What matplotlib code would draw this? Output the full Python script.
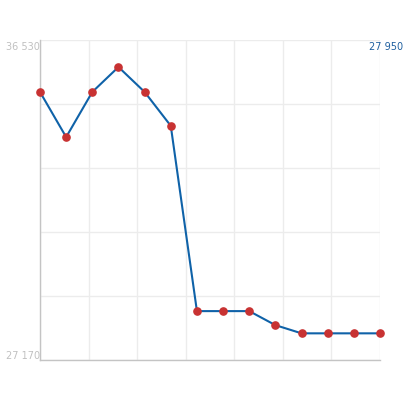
import matplotlib
matplotlib.use("Agg")
import matplotlib.pyplot as plt

values = [35010, 33690, 35010, 35740, 35010, 34020, 28600, 28600, 28600, 28190, 27950, 27950, 27950, 27950]
y_min, y_max = 27170, 36530
y_min_label = "27 170"
y_max_label = "36 530"
last_label = "27 950"

fig = plt.figure(figsize=(4.2, 4.0), dpi=100)
ax = fig.add_axes([40/420, 40/400, 340/420, 320/400])

x = list(range(len(values)))
ax.plot(x, values, color="#0f62a8", lw=1.5, zorder=3, clip_on=False)
ax.plot(x, values, 'o', color="#c83232", ms=5.2, mec="#c83232", zorder=4, clip_on=False)

ax.set_xlim(0, len(values) - 1)
ax.set_ylim(y_min, y_max)

n = len(values) - 1
for i in range(8):
    ax.axvline(i * n / 7, color="#ececec", lw=1, zorder=1)
for j in range(6):
    ax.axhline(y_min + j * (y_max - y_min) / 5, color="#ececec", lw=1, zorder=1)

for s in ["top", "right"]:
    ax.spines[s].set_visible(False)
for s in ["left", "bottom"]:
    ax.spines[s].set_color("#c4c4c4")
    ax.spines[s].set_linewidth(1)
ax.set_xticks([])
ax.set_yticks([])

fig.text(40/420, 1 - 47/400, y_max_label, ha="right", va="center", fontsize=7, color="#c0c0c0")
fig.text(40/420, 1 - 356/400, y_min_label, ha="right", va="center", fontsize=7, color="#c0c0c0")
fig.text(369/420, 1 - 47/400, last_label, ha="left", va="center", fontsize=7, color="#1f5f9f")

fig.savefig("out.png", dpi=100)
